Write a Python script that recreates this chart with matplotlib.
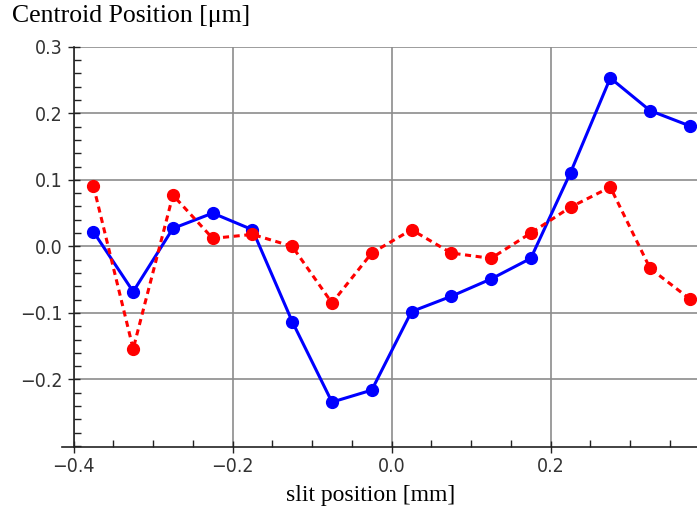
"""Centroid position versus slit position."""

import matplotlib.pyplot as plt
from matplotlib.lines import Line2D
from matplotlib.ticker import FixedLocator, MultipleLocator, FuncFormatter

slit_pos = [-0.375, -0.325, -0.275, -0.225, -0.175, -0.125, -0.075, -0.025,
            0.025, 0.075, 0.125, 0.175, 0.225, 0.275, 0.325, 0.375]
centroid_blue = [0.022, -0.068, 0.027, 0.050, 0.025, -0.113, -0.234, -0.216,
                 -0.098, -0.075, -0.049, -0.018, 0.111, 0.253, 0.204, 0.181]
centroid_red = [0.091, -0.154, 0.077, 0.012, 0.018, 0.0, -0.085, -0.010,
                0.025, -0.010, -0.018, 0.020, 0.059, 0.089, -0.033, -0.079]
x_ticks = [-0.4, -0.2, 0.0, 0.2]
y_ticks = [-0.2, -0.1, 0.0, 0.1, 0.2, 0.3]


def fmt(v, pos):
    return f"{v:.1f}".replace("-", "\u2212")


def main():
    plt.rcParams["font.family"] = ["Liberation Serif", "DejaVu Serif"]
    fig = plt.figure(figsize=(6.97, 5.08), dpi=100)
    ax = fig.add_axes([0.1055, 0.1207, 0.8945, 0.7873])

    ax.plot(slit_pos, centroid_blue, color="#0000ff", lw=2.2,
            marker="o", ms=8.5, zorder=3)
    ax.plot(slit_pos, centroid_red, color="#ff0000", lw=2.2, ls=(0, (2.0, 1.5)),
            marker="o", ms=8.5, zorder=3)

    ax.set_xlim(-0.4, 0.384)
    ax.set_ylim(-0.301, 0.3)

    ax.xaxis.set_major_locator(FixedLocator(x_ticks))
    ax.yaxis.set_major_locator(FixedLocator(y_ticks))
    ax.xaxis.set_minor_locator(MultipleLocator(0.05))
    ax.yaxis.set_minor_locator(MultipleLocator(0.02))
    ax.xaxis.set_major_formatter(FuncFormatter(fmt))
    ax.yaxis.set_major_formatter(FuncFormatter(fmt))

    ax.grid(True, which="major", color="#8c8c8c", lw=1.2)
    ax.set_axisbelow(True)

    for s in ("top", "right"):
        ax.spines[s].set_visible(False)
    for s in ("left", "bottom"):
        ax.spines[s].set_linewidth(1.2)
        ax.spines[s].set_color("#222222")
    # bottom axis line runs a little past the y axis
    ax.add_line(Line2D([-0.018, 0], [0, 0], transform=ax.transAxes,
                       color="#222222", lw=1.2, clip_on=False))

    ax.tick_params(which="major", direction="inout", length=9, width=1.0,
                   labelsize=14, colors="#222222", labelcolor="#333333", pad=3)
    ax.tick_params(which="minor", direction="in", length=5, width=1.0,
                   colors="#222222")
    for lab in ax.get_xticklabels() + ax.get_yticklabels():
        lab.set_family(["DejaVu Sans"])
        lab.set_stretch("condensed")
        lab.set_weight("light")

    ax.set_xlabel("slit position [mm]", fontsize=17, labelpad=1)
    ax.xaxis.set_label_coords(0.476, -0.096)
    fig.text(0.017, 0.99, "Centroid Position [\u03bcm]", fontsize=18.5,
             ha="left", va="top")

    fig.savefig("out.png", dpi=100)


if __name__ == "__main__":
    main()
